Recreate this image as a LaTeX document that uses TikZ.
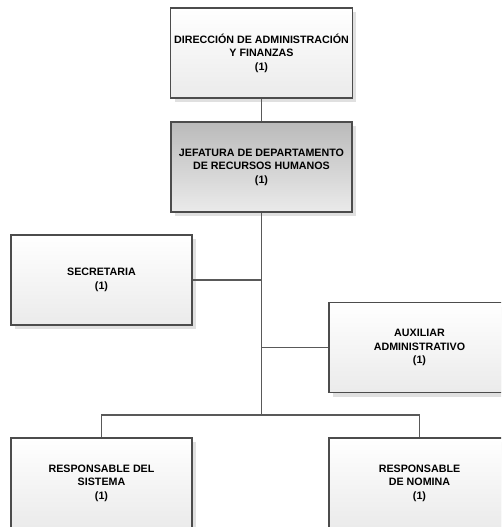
\documentclass[tikz,border=0pt]{standalone}
\usepackage{fontspec}
\setmainfont{Liberation Sans}
\usepackage{tikz}
\usetikzlibrary{shadows,calc}

\begin{document}
\begin{tikzpicture}[x=1pt,y=-1pt,
  puesto/.style={draw=black!70,line width=1.1pt,rectangle,minimum width=181pt,minimum height=90pt,
    align=center,font=\fontsize{10.7}{13.5}\selectfont\bfseries,
    top color=white,bottom color=black!8,
    drop shadow={shadow xshift=4pt,shadow yshift=-4pt,fill=black!12,opacity=1}},
  linea/.style={draw=black!65,line width=1.1pt}]
\clip (0,0) rectangle (501,527);

% Boxes
\node[puesto] (dir) at (261.5,53) {DIRECCIÓN DE ADMINISTRACIÓN\\Y FINANZAS\\(1)};
\node[puesto,top color=black!27,bottom color=black!8] (jef) at (261.5,167) {JEFATURA DE DEPARTAMENTO\\DE RECURSOS HUMANOS\\(1)};
\node[puesto] (sec) at (101.5,280) {SECRETARIA\\(1)};
\node[puesto] (aux) at (419.5,347.5) {AUXILIAR\\ADMINISTRATIVO\\(1)};
\node[puesto] (sis) at (101.5,483) {RESPONSABLE DEL\\SISTEMA\\(1)};
\node[puesto] (nom) at (419.5,483) {RESPONSABLE\\DE NOMINA\\(1)};

% Connectors
\coordinate (bus) at (261.5,415);
\draw[linea] (dir.south) -- (jef.north);
\draw[linea] (jef.south) -- (bus);
\draw[linea] (sec.east) -- (sec.east -| bus);
\draw[linea] (aux.west) -- (aux.west -| bus);
\draw[linea] (sis.north) |- (bus) -| (nom.north);
\end{tikzpicture}
\end{document}
